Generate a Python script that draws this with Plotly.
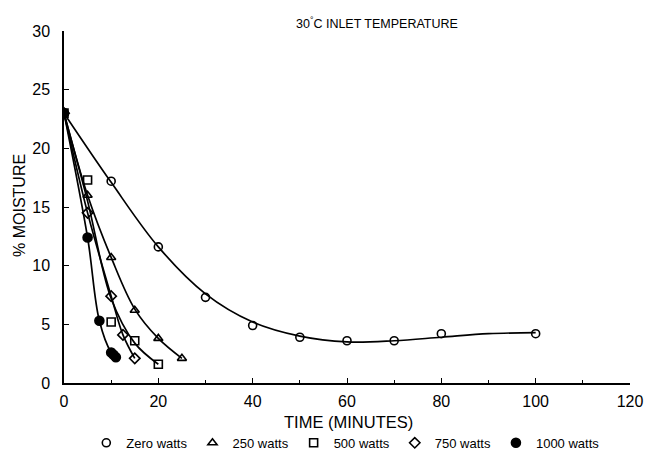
import plotly.graph_objects as go

# Measured data (markers)
zero_x = [0, 10, 20, 30, 40, 50, 60, 70, 80, 100]
zero_y = [23.0, 17.2, 11.6, 7.3, 4.9, 3.9, 3.6, 3.6, 4.2, 4.2]
w250_x = [0, 5, 10, 15, 20, 25]
w250_y = [23.0, 16.0, 10.7, 6.2, 3.8, 2.1]
w500_x = [0, 5, 10, 15, 20]
w500_y = [23.0, 17.3, 5.2, 3.6, 1.6]
w750_x = [0, 5, 10, 12.5, 15]
w750_y = [23.0, 14.5, 7.4, 4.1, 2.1]
w1000_x = [0, 5, 7.5, 10, 10.5, 11]
w1000_y = [23.0, 12.4, 5.3, 2.6, 2.4, 2.2]

# Fitted curves
zero_cx = [0, 10, 20, 30, 40, 50, 60, 70, 80, 90, 100]
zero_cy = [23.0, 17.1, 11.6, 7.6, 5.2, 4.0, 3.5, 3.6, 3.9, 4.2, 4.3]
w250_cx = [0, 5, 10, 15, 20, 25]
w250_cy = [23.0, 16.0, 10.7, 6.3, 3.8, 2.1]
w500_cx = [0, 5, 10, 15, 20]
w500_cy = [23.0, 15.5, 7.2, 3.4, 1.6]
w750_cx = [0, 5, 10, 12.5, 15]
w750_cy = [23.0, 14.5, 7.4, 4.1, 2.1]
w1000_cx = [0, 5, 7.5, 10, 11]
w1000_cy = [23.0, 12.4, 5.3, 2.6, 2.2]

x_ticks = [0, 20, 40, 60, 80, 100, 120]
x_minor = [10, 30, 50, 70, 90, 110]
y_ticks = [0, 5, 10, 15, 20, 25, 30]

series = [
    ("Zero watts", zero_x, zero_y, zero_cx, zero_cy, "circle-open", 8),
    ("250 watts", w250_x, w250_y, w250_cx, w250_cy, "triangle-up-open", 8),
    ("500 watts", w500_x, w500_y, w500_cx, w500_cy, "square-open", 8),
    ("750 watts", w750_x, w750_y, w750_cx, w750_cy, "diamond-open", 8),
    ("1000 watts", w1000_x, w1000_y, w1000_cx, w1000_cy, "circle", 9),
]

fig = go.Figure()
for name, x, y, cx, cy, sym, sz in series:
    fig.add_trace(go.Scatter(x=cx, y=cy, mode="lines",
                             line=dict(color="black", width=1.7, shape="spline", smoothing=1.0),
                             showlegend=False, hoverinfo="skip"))
    fig.add_trace(go.Scatter(x=x, y=y, mode="markers", name=name,
                             marker=dict(symbol=sym, size=sz, color="black",
                                         line=dict(color="black", width=1.6))))

font = "Liberation Sans"
fig.update_layout(
    width=647, height=452,
    margin=dict(l=64, r=17, t=31, b=69, autoexpand=False),
    paper_bgcolor="white", plot_bgcolor="white",
    font=dict(family=font, color="black", size=16),
    showlegend=True,
    legend=dict(orientation="h", x=0.497, xanchor="center", y=-0.17, yanchor="middle",
                font=dict(size=13, family=font), itemwidth=30, tracegroupgap=0,
                bgcolor="rgba(0,0,0,0)"),
    annotations=[
        dict(text="30<sup>°</sup>C INLET TEMPERATURE", x=0.553, y=1.0227, xref="paper", yref="paper",
             showarrow=False, font=dict(size=12.5, family=font), xanchor="center", yanchor="middle"),
        dict(text="TIME (MINUTES)", x=0.502, y=-0.111, xref="paper", yref="paper",
             showarrow=False, font=dict(size=16.5, family=font), xanchor="center", yanchor="middle"),
        dict(text="% MOISTURE", x=-0.0777, y=0.503, xref="paper", yref="paper", textangle=-90,
             showarrow=False, font=dict(size=16, family=font), xanchor="center", yanchor="middle"),
    ],
)
fig.update_xaxes(range=[0, 120], tickvals=x_ticks, showgrid=False, zeroline=False, automargin=False,
                 showline=True, linecolor="black", linewidth=1.5, ticks="inside", ticklen=5, tickcolor="black",
                 minor=dict(tickvals=x_minor, ticks="inside", ticklen=3, tickcolor="black"),
                 ticklabelstandoff=3, tickfont=dict(size=16))
fig.update_yaxes(range=[0, 30], tickvals=y_ticks, showgrid=False, zeroline=False, automargin=False,
                 showline=True, linecolor="black", linewidth=1.5, ticks="inside", ticklen=5, tickcolor="black",
                 ticklabelstandoff=9, tickfont=dict(size=16))

fig.write_html("out.html", config={"displayModeBar": False},
               post_script="document.body.style.margin='0';document.body.style.padding='0';")
